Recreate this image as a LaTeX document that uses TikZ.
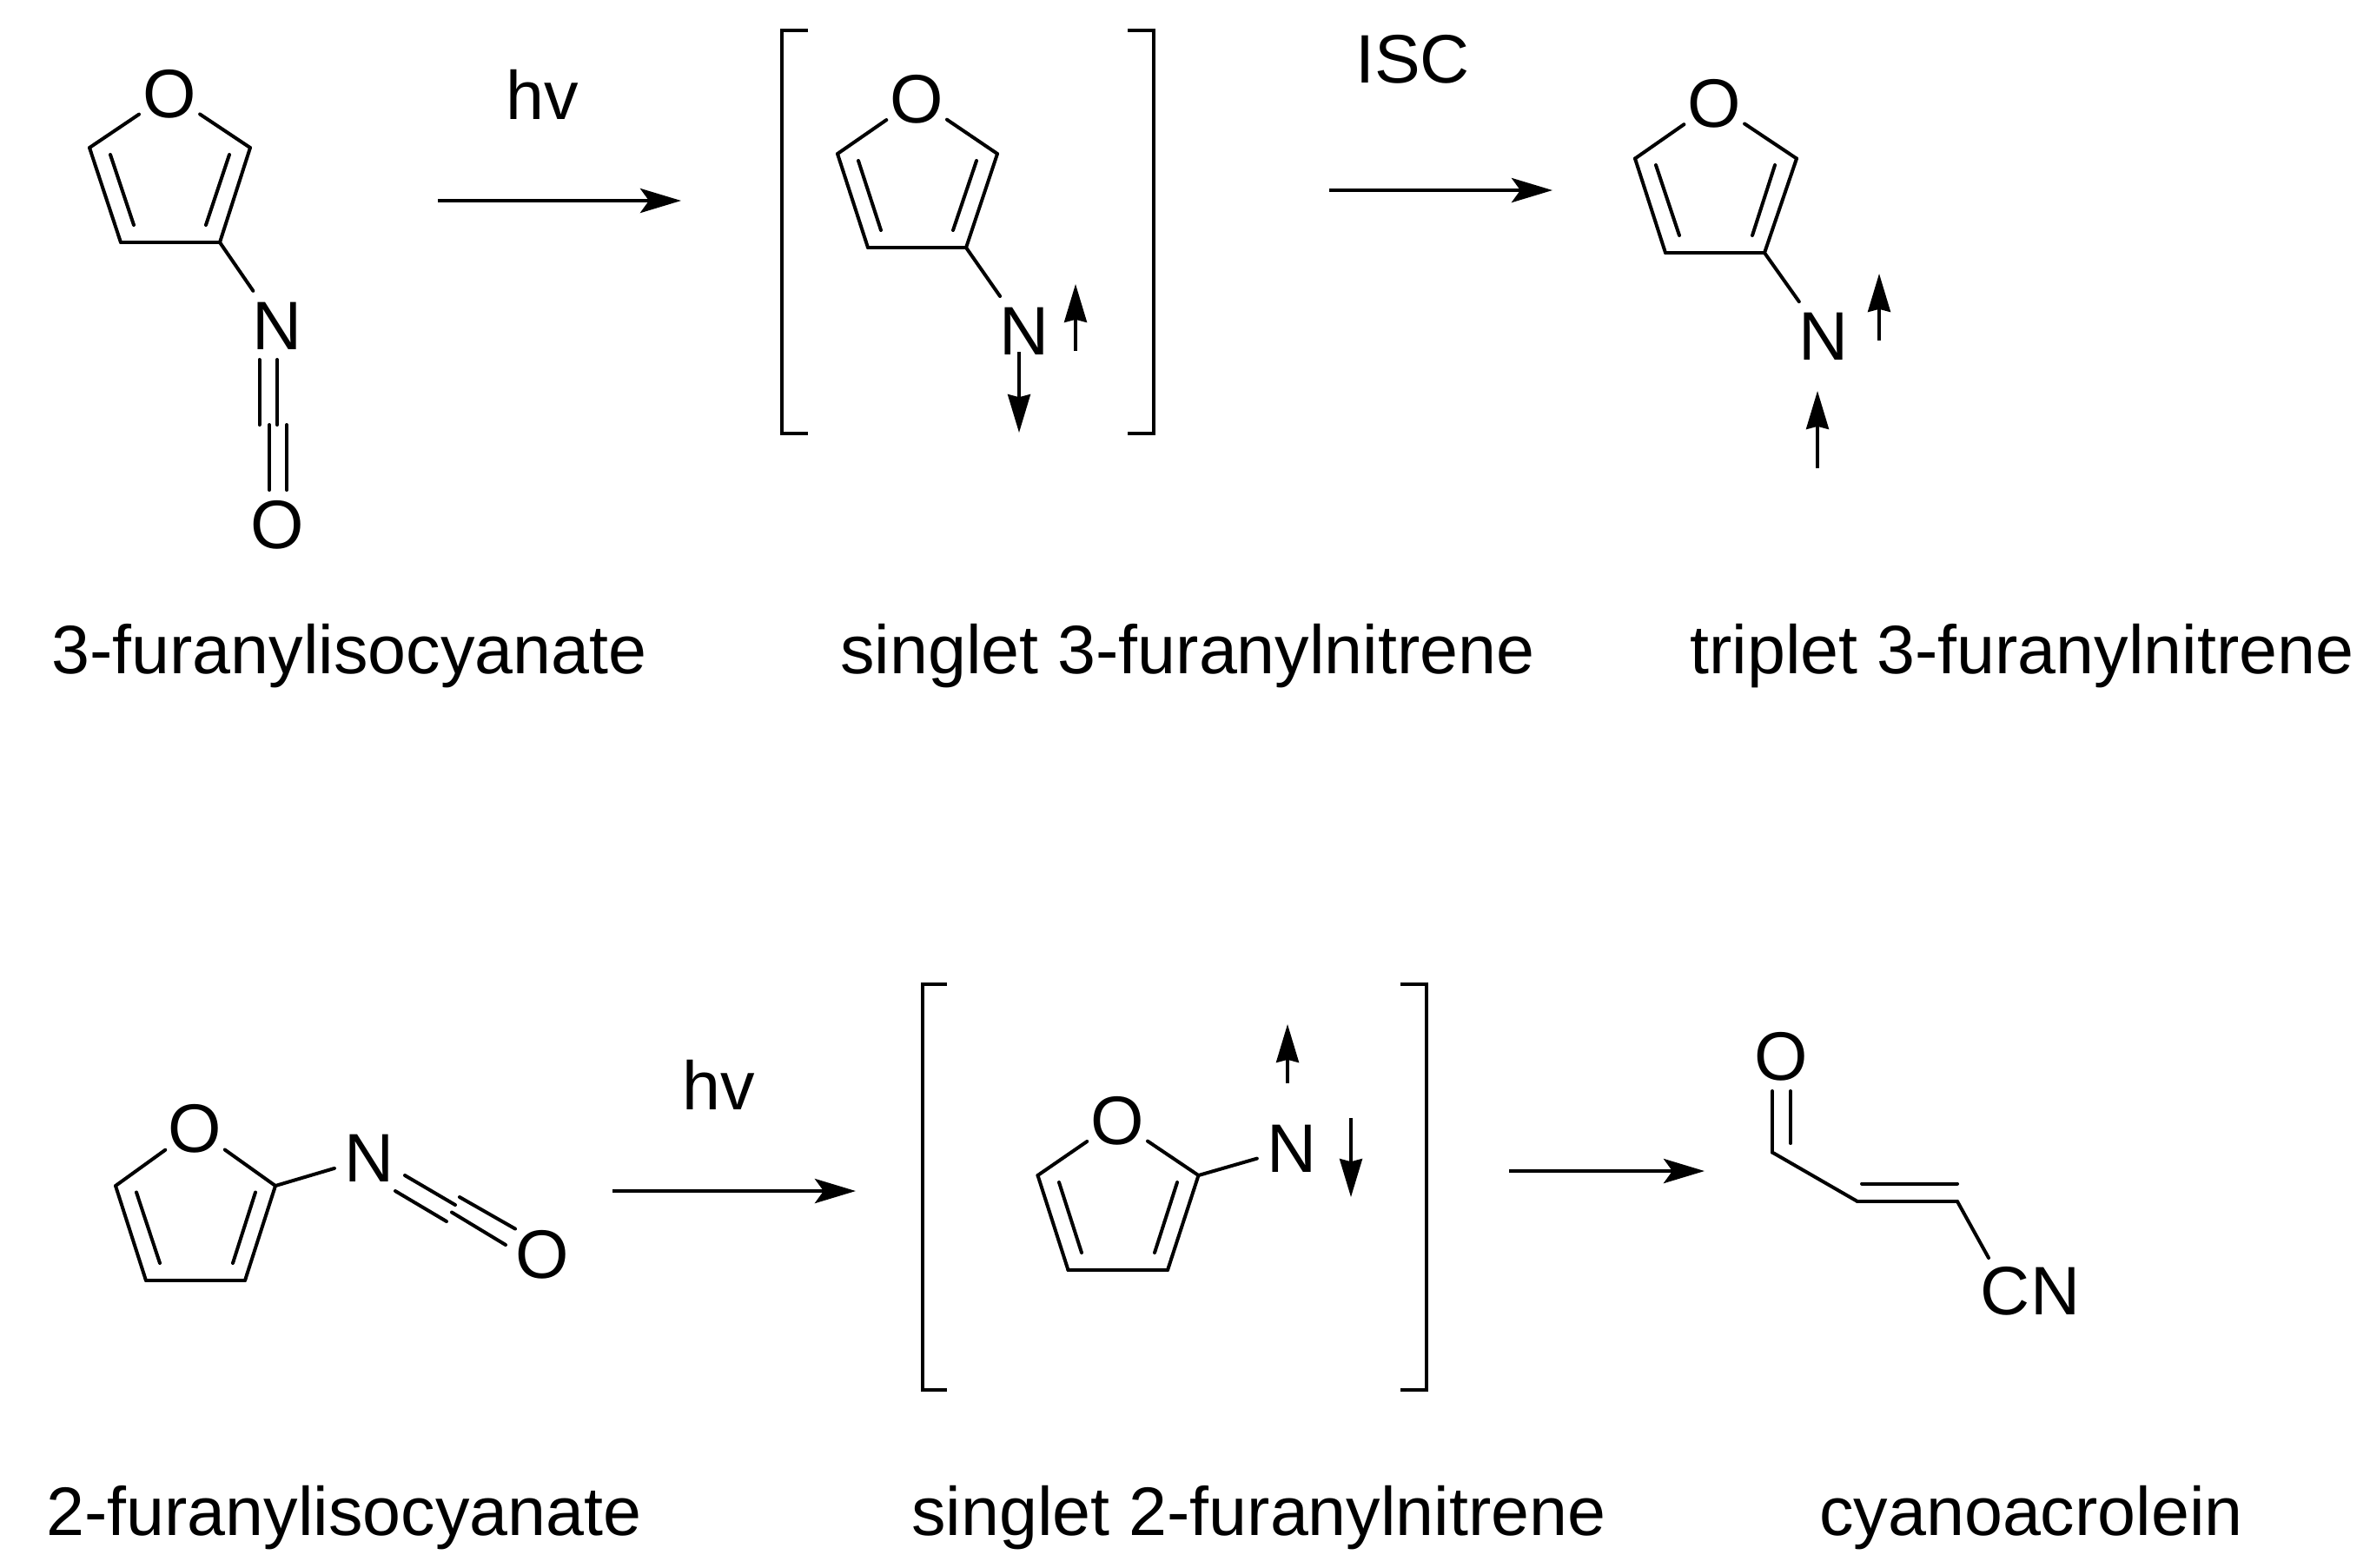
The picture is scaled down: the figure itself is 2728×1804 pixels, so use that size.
\documentclass[tikz,border=0pt]{standalone}
\usepackage{fontspec}
\setmainfont{Liberation Sans}
\usetikzlibrary{arrows.meta}
\tikzset{
	atom/.style={circle, inner sep=0pt, minimum size=20.5pt},
	caption/.style={anchor=base, inner sep=0pt},
	bracket/.style={line width=1.15pt},
	rxn/.style={-{Stealth[length=11.75pt,width=7pt,inset=2.5pt]}, line width=1.2pt, line cap=butt},
	spin/.style={-{Stealth[length=11pt,width=6.5pt,inset=0.8pt]}, line width=0.85pt, line cap=butt},
}
\begin{document}
\begin{tikzpicture}[x=0.25pt, y=-0.25pt, font=\fontsize{19.75}{24}\selectfont,
	every edge/.style={draw, line width=1pt, line cap=round}]
	
	\useasboundingbox (0,0) rectangle (2728,1804);
	
	% 3-furanylisocyanate
	\node[atom] (O1) at (195,108) {O};
	\coordinate (A1) at (103,170);
	\coordinate (B1) at (288,170);
	\coordinate (C1) at (139,279);
	\coordinate (D1) at (253,279);
	\coordinate (E1) at (127,178);
	\coordinate (F1) at (154,259);
	\coordinate (G1) at (264,178);
	\coordinate (H1) at (237,259);
	\node[atom, minimum size=24pt] (N1) at (319,375) {N};
	\node[atom] (P1) at (319,604) {O};
	\coordinate (I1) at (298.5,414);
	\coordinate (J1) at (298.5,489);
	\coordinate (K1) at (319,414);
	\coordinate (L1) at (319,489);
	\coordinate (M1) at (310,489);
	\coordinate (Q1) at (310,564);
	\coordinate (R1) at (330,489);
	\coordinate (S1) at (330,564);
	
	\path (O1) edge (A1);
	\path (O1) edge (B1);
	\path (A1) edge (C1);
	\path (B1) edge (D1);
	\path (C1) edge (D1);
	\path (E1) edge (F1);
	\path (G1) edge (H1);
	\path (D1) edge (N1);
	\path (I1) edge (J1);
	\path (K1) edge (L1);
	\path (M1) edge (Q1);
	\path (R1) edge (S1);
	
	\node[caption] (hv1) at (624,137) {hv};
	\coordinate (a1) at (504,231);
	\coordinate (b1) at (784,231);
	\path (a1) edge[rxn] (b1);
	\node[caption] (name1) at (402,775) {3-furanylisocyanate};
	
	% singlet 3-furanylnitrene
	\draw[bracket] (930,35) -| (900,499) -- (930,499);
	\draw[bracket] (1298,35) -| (1328,499) -- (1298,499);
	
	\node[atom] (O2) at (1055,114) {O};
	\coordinate (A2) at (964,177);
	\coordinate (B2) at (1148,177);
	\coordinate (C2) at (999,285);
	\coordinate (D2) at (1112,285);
	\coordinate (E2) at (988,185);
	\coordinate (F2) at (1014,265);
	\coordinate (G2) at (1124,185);
	\coordinate (H2) at (1097,265);
	\node[atom, minimum size=24pt] (N2) at (1179,381) {N};
	
	\path (O2) edge (A2);
	\path (O2) edge (B2);
	\path (A2) edge (C2);
	\path (B2) edge (D2);
	\path (C2) edge (D2);
	\path (E2) edge (F2);
	\path (G2) edge (H2);
	\path (D2) edge (N2);
	
	\coordinate (s1) at (1238,404);
	\coordinate (s2) at (1238,327);
	\coordinate (s3) at (1173,405);
	\coordinate (s4) at (1173,498);
	\path (s1) edge[spin] (s2);
	\path (s3) edge[spin] (s4);
	
	\node[caption] (isc) at (1626,95) {ISC};
	\coordinate (a2) at (1530,219);
	\coordinate (b2) at (1787,219);
	\path (a2) edge[rxn] (b2);
	\node[caption] (name2) at (1367,775) {singlet 3-furanylnitrene};
	
	% triplet 3-furanylnitrene
	\node[atom] (O3) at (1973,119) {O};
	\coordinate (A3) at (1882,182.5);
	\coordinate (B3) at (2068,182.5);
	\coordinate (C3) at (1917,291);
	\coordinate (D3) at (2031,291);
	\coordinate (E3) at (1906,190);
	\coordinate (F3) at (1933,271);
	\coordinate (G3) at (2043,190);
	\coordinate (H3) at (2017,271);
	\node[atom, minimum size=24pt] (N3) at (2099,387) {N};
	
	\path (O3) edge (A3);
	\path (O3) edge (B3);
	\path (A3) edge (C3);
	\path (B3) edge (D3);
	\path (C3) edge (D3);
	\path (E3) edge (F3);
	\path (G3) edge (H3);
	\path (D3) edge (N3);
	
	\coordinate (s5) at (2163,392);
	\coordinate (s6) at (2163,315);
	\coordinate (s7) at (2092,539);
	\coordinate (s8) at (2092,450);
	\path (s5) edge[spin] (s6);
	\path (s7) edge[spin] (s8);
	\node[caption] (name3) at (2327.5,775) {triplet 3-furanylnitrene};
	
	% 2-furanylisocyanate
	\node[atom] (O4) at (224.5,1299) {O};
	\coordinate (A4) at (133,1365);
	\coordinate (B4) at (317,1365);
	\coordinate (C4) at (168,1474);
	\coordinate (D4) at (282,1474);
	\coordinate (E4) at (157,1372.5);
	\coordinate (F4) at (184,1454);
	\coordinate (G4) at (294,1372.5);
	\coordinate (H4) at (268,1454);
	\node[atom] (N4) at (425,1333) {N};
	\node[atom] (P4) at (624,1444) {O};
	\coordinate (I4) at (455,1371);
	\coordinate (J4) at (514,1406);
	\coordinate (K4) at (466,1353);
	\coordinate (L4) at (524,1387);
	\coordinate (M4) at (520,1395.5);
	\coordinate (Q4) at (582,1433);
	\coordinate (R4) at (529,1378);
	\coordinate (S4) at (593,1414.5);
	
	\path (O4) edge (A4);
	\path (O4) edge (B4);
	\path (A4) edge (C4);
	\path (B4) edge (D4);
	\path (C4) edge (D4);
	\path (E4) edge (F4);
	\path (G4) edge (H4);
	\path (B4) edge (N4);
	\path (I4) edge (J4);
	\path (K4) edge (L4);
	\path (M4) edge (Q4);
	\path (R4) edge (S4);
	
	\node[caption] (hv2) at (827,1277) {hv};
	\coordinate (a3) at (705,1371);
	\coordinate (b3) at (985,1371);
	\path (a3) edge[rxn] (b3);
	\node[caption] (name4) at (396,1767) {2-furanylisocyanate};
	
	% singlet 2-furanylnitrene
	\draw[bracket] (1090,1133) -| (1062,1600) -- (1090,1600);
	\draw[bracket] (1612,1133) -| (1642,1600) -- (1612,1600);
	
	\node[atom] (O5) at (1286,1290) {O};
	\coordinate (A5) at (1194.5,1353);
	\coordinate (B5) at (1379.5,1353);
	\coordinate (C5) at (1229.5,1462);
	\coordinate (D5) at (1344,1462);
	\coordinate (E5) at (1219,1361);
	\coordinate (F5) at (1245,1442);
	\coordinate (G5) at (1355,1361);
	\coordinate (H5) at (1329,1442);
	\node[atom] (N5) at (1487,1322) {N};
	
	\path (O5) edge (A5);
	\path (O5) edge (B5);
	\path (A5) edge (C5);
	\path (B5) edge (D5);
	\path (C5) edge (D5);
	\path (E5) edge (F5);
	\path (G5) edge (H5);
	\path (B5) edge (N5);
	
	\coordinate (s9) at (1482,1247);
	\coordinate (s10) at (1482,1179);
	\coordinate (s11) at (1555,1287);
	\coordinate (s12) at (1555,1378);
	\path (s9) edge[spin] (s10);
	\path (s11) edge[spin] (s12);
	
	\coordinate (a4) at (1737,1348);
	\coordinate (b4) at (1962,1348);
	\path (a4) edge[rxn] (b4);
	\node[caption] (name5) at (1449,1767) {singlet 2-furanylnitrene};
	
	% cyanoacrolein
	\node[atom] (O6) at (2050,1216) {O};
	\coordinate (A6) at (2040,1326.5);
	\coordinate (B6) at (2138,1383);
	\coordinate (C6) at (2253,1383);
	\coordinate (D6) at (2061,1256);
	\coordinate (E6) at (2061,1316);
	\coordinate (F6) at (2040,1256);
	\coordinate (G6) at (2143,1362.5);
	\coordinate (H6) at (2253,1362.5);
	\node[atom, minimum size=0pt] (CN) at (2337,1486) {CN};
	\coordinate (I6) at (2289,1448);
	
	\path (F6) edge (A6);
	\path (D6) edge (E6);
	\path (A6) edge (B6);
	\path (B6) edge (C6);
	\path (G6) edge (H6);
	\path (C6) edge (I6);
	
	\node[caption] (name6) at (2338,1767) {cyanoacrolein};
	
\end{tikzpicture}
\end{document}
